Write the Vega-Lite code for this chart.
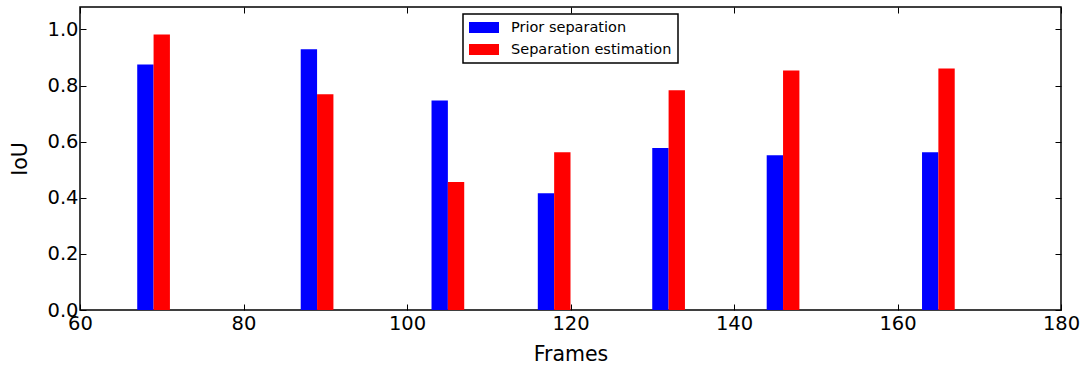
{
  "$schema": "https://vega.github.io/schema/vega-lite/v6.json",
  "width": 981,
  "height": 303,
  "autosize": "none",
  "padding": {"left": 80, "top": 7, "right": 27, "bottom": 59},
  "background": "white",
  "config": {
    "font": "DejaVu Sans",
    "view": {"stroke": "#000000", "strokeWidth": 1.5},
    "legend": {"strokeWidth": 1.5, "strokeColor": "#000000"},
    "axis": {
      "grid": false,
      "domain": false,
      "tickColor": "#000000",
      "tickSize": -6,
      "tickWidth": 1,
      "labelColor": "#000000",
      "titleColor": "#000000",
      "labelFont": "DejaVu Sans",
      "titleFont": "DejaVu Sans",
      "labelFontSize": 19.5,
      "titleFontSize": 20.5,
      "titleFontWeight": "normal"
    }
  },
  "data": {
    "values": [
      {"start": 67, "end": 69, "iou": 0.875, "series": "Prior separation"},
      {"start": 69, "end": 71, "iou": 0.982, "series": "Separation estimation"},
      {"start": 87, "end": 89, "iou": 0.929, "series": "Prior separation"},
      {"start": 89, "end": 91, "iou": 0.769, "series": "Separation estimation"},
      {"start": 103, "end": 105, "iou": 0.747, "series": "Prior separation"},
      {"start": 105, "end": 107, "iou": 0.456, "series": "Separation estimation"},
      {"start": 116, "end": 118, "iou": 0.416, "series": "Prior separation"},
      {"start": 118, "end": 120, "iou": 0.562, "series": "Separation estimation"},
      {"start": 130, "end": 132, "iou": 0.577, "series": "Prior separation"},
      {"start": 132, "end": 134, "iou": 0.783, "series": "Separation estimation"},
      {"start": 144, "end": 146, "iou": 0.552, "series": "Prior separation"},
      {"start": 146, "end": 148, "iou": 0.854, "series": "Separation estimation"},
      {"start": 163, "end": 165, "iou": 0.562, "series": "Prior separation"},
      {"start": 165, "end": 167, "iou": 0.861, "series": "Separation estimation"}
    ]
  },
  "layer": [
    {
      "mark": {"type": "bar", "cornerRadius": 0, "stroke": null},
      "encoding": {
        "x": {
          "field": "start", "type": "quantitative",
          "scale": {"domain": [60, 180], "nice": false, "zero": false},
          "axis": {"values": [60, 80, 100, 120, 140, 160, 180], "title": "Frames", "labelPadding": 10, "titlePadding": 12, "labelFlush": false}
        },
        "x2": {"field": "end"},
        "y": {
          "field": "iou", "type": "quantitative",
          "scale": {"domain": [0, 1.08], "nice": false},
          "axis": {"values": [0, 0.2, 0.4, 0.6, 0.8, 1.0], "format": ".1f", "title": "IoU", "labelPadding": 8, "titlePadding": 16, "labelFlush": false}
        },
        "y2": {"datum": 0},
        "color": {
          "field": "series", "type": "nominal",
          "scale": {"domain": ["Prior separation", "Separation estimation"], "range": ["#0000ff", "#ff0000"]},
          "legend": {
            "title": null,
            "orient": "none",
            "legendX": 383,
            "legendY": 7,
            "direction": "vertical",
            "fillColor": "#ffffff",
            "strokeColor": "#000000",
            "padding": 6,
            "cornerRadius": 0,
            "rowPadding": 6,
            "clipHeight": 15,
            "symbolType": "M-1,-0.37H1V0.37H-1Z",
            "symbolSize": 900,
            "symbolStrokeWidth": 0,
            "symbolOpacity": 1,
            "labelFontSize": 14.5,
            "labelLimit": 400,
            "labelFont": "DejaVu Sans",
            "labelColor": "#000000",
            "labelOffset": 12
          }
        }
      }
    },
    {
      "mark": {"type": "bar", "opacity": 0},
      "encoding": {
        "x": {
          "field": "start", "type": "quantitative",
          "scale": {"domain": [60, 180], "nice": false, "zero": false},
          "axis": {"orient": "top", "values": [60, 80, 100, 120, 140, 160, 180], "labels": false, "title": null}
        },
        "x2": {"field": "end"},
        "y": {
          "field": "iou", "type": "quantitative",
          "scale": {"domain": [0, 1.08], "nice": false},
          "axis": {"orient": "right", "values": [0, 0.2, 0.4, 0.6, 0.8, 1.0], "labels": false, "title": null}
        },
        "y2": {"datum": 0}
      }
    }
  ],
  "resolve": {"axis": {"x": "independent", "y": "independent"}}
}
